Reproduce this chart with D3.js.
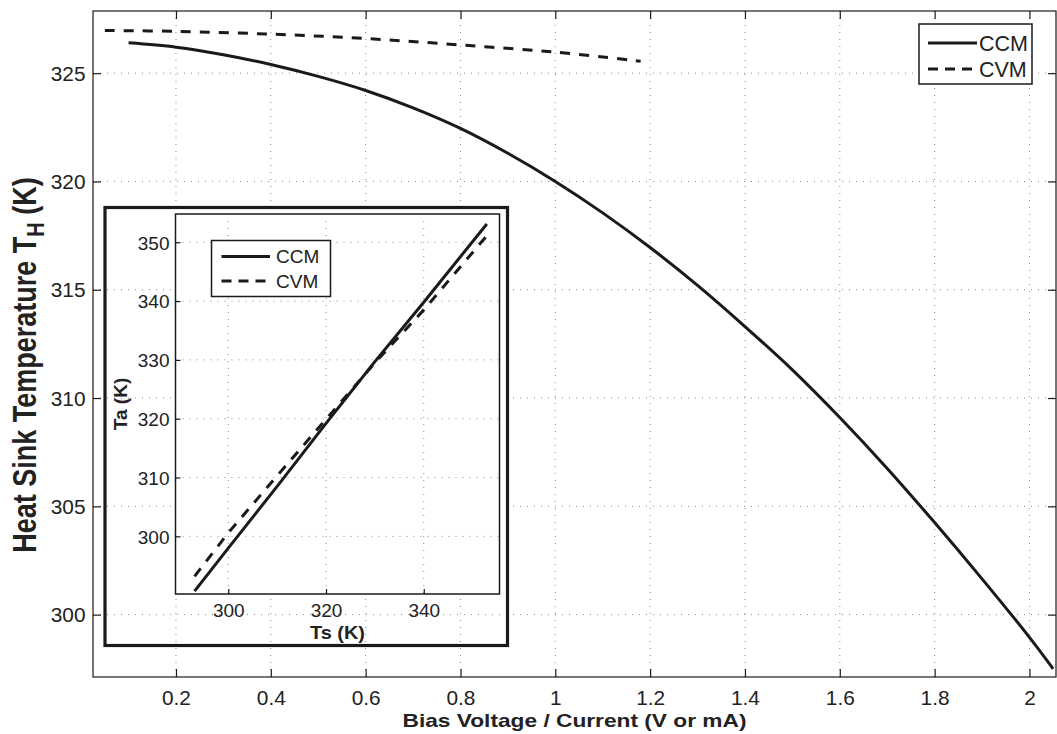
<!DOCTYPE html>
<html><head><meta charset="utf-8">
<script src="https://cdn.jsdelivr.net/npm/d3@7"></script>
<style>body{margin:0;background:#fff;} svg{display:block;} text{font-family:"Liberation Sans",Arial,sans-serif;fill:#222;}</style>
</head><body>
<svg id="c" width="1057" height="734"></svg>
<script>
// ---- main chart data ----
const ccmX = [0.1,0.2,0.3,0.4,0.5,0.6,0.7,0.8,0.9,1.0,1.1,1.2,1.3,1.4,1.5,1.6,1.7,1.8,1.9,2.0,2.05];
const ccmT = [326.4,326.2,325.85,325.4,324.85,324.2,323.4,322.45,321.3,320.0,318.55,316.95,315.2,313.3,311.3,309.1,306.75,304.25,301.65,298.95,297.5];
const cvmX = [0.05,0.2,0.4,0.6,0.8,1.0,1.18];
const cvmT = [326.97,326.93,326.8,326.6,326.3,325.97,325.55];
const xTicks = [0.2,0.4,0.6,0.8,1.0,1.2,1.4,1.6,1.8,2.0];
const yTicks = [300,305,310,315,320,325];
// ---- inset data ----
const insCcmTs = [293.1,300,310,320,330,340,352.9];
const insCcmTa = [290.7,298.0,308.5,319.2,329.7,339.8,353.1];
const insCvmTs = [293.1,300,310,320,330,340,352.9];
const insCvmTa = [293.2,300.6,310.3,319.9,329.5,338.5,351.1];
const insXTicks = [300,320,340];
const insYTicks = [300,310,320,330,340,350];
const seriesNames = ["CCM","CVM"];

const svg = d3.select("#c");
const M = {l:93, r:1056, t:11, b:677};
const x = d3.scaleLinear().domain([0.025,2.056]).range([M.l,M.r]);
const y = d3.scaleLinear().domain([297.12,327.87]).range([M.b,M.t]);
const ink = "#1a1a1a", gridC = "#888";
const FF = "'Liberation Sans',Arial,sans-serif";

svg.append("defs").append("clipPath").attr("id","mclip")
  .append("rect").attr("x",M.l).attr("y",M.t).attr("width",M.r-M.l).attr("height",M.b-M.t);

// main grid
const g = svg.append("g");
xTicks.forEach(v=>g.append("line").attr("x1",x(v)).attr("x2",x(v)).attr("y1",M.t).attr("y2",M.b)
  .attr("stroke",gridC).attr("stroke-width",1).attr("stroke-dasharray","1,6"));
yTicks.forEach(v=>g.append("line").attr("y1",y(v)).attr("y2",y(v)).attr("x1",M.l).attr("x2",M.r)
  .attr("stroke",gridC).attr("stroke-width",1).attr("stroke-dasharray","1,6"));

// main lines
const lineMain = d3.line().x(d=>x(d[0])).y(d=>y(d[1])).curve(d3.curveCatmullRom);
const lg = svg.append("g").attr("clip-path","url(#mclip)");
lg.append("path").datum(ccmX.map((v,i)=>[v,ccmT[i]])).attr("d",lineMain)
  .attr("fill","none").attr("stroke",ink).attr("stroke-width",3);
lg.append("path").datum(cvmX.map((v,i)=>[v,cvmT[i]])).attr("d",lineMain)
  .attr("fill","none").attr("stroke",ink).attr("stroke-width",3).attr("stroke-dasharray","10,9");

// main axes box + ticks
svg.append("rect").attr("x",M.l).attr("y",M.t).attr("width",M.r-M.l).attr("height",M.b-M.t)
  .attr("fill","none").attr("stroke",ink).attr("stroke-width",1.2);
const ax = svg.append("g").attr("transform",`translate(0,${M.b})`)
  .call(d3.axisBottom(x).tickValues(xTicks).tickSizeInner(-8).tickSizeOuter(0).tickPadding(14)
  .tickFormat(d=>d3.format("")(+d.toFixed(1))));
const ay = svg.append("g").attr("transform",`translate(${M.l},0)`)
  .call(d3.axisLeft(y).tickValues(yTicks).tickSizeInner(-8).tickSizeOuter(0).tickPadding(7));
const axT = svg.append("g").attr("transform",`translate(0,${M.t})`)
  .call(d3.axisTop(x).tickValues(xTicks).tickSizeInner(-8).tickSizeOuter(0).tickFormat(""));
const ayR = svg.append("g").attr("transform",`translate(${M.r},0)`)
  .call(d3.axisRight(y).tickValues(yTicks).tickSizeInner(-8).tickSizeOuter(0).tickFormat(""));
[ax,ay,axT,ayR].forEach(a=>{a.select(".domain").remove();
  a.selectAll("line").attr("stroke",ink).attr("stroke-width",1.2);
  a.selectAll("text").attr("font-size",19.5).attr("fill","#222").style("font-family",FF)
    .attr("transform","scale(1.07,1)");});
ay.selectAll("text").attr("dy","0.36em");

svg.append("text").attr("x",(M.l+M.r)/2).attr("y",727).attr("text-anchor","middle")
  .attr("font-size",18.5).attr("font-weight","bold")
  .attr("textLength",344).attr("lengthAdjust","spacingAndGlyphs")
  .text("Bias Voltage / Current (V or mA)");
const yl = svg.append("text").attr("transform",`translate(36,365) rotate(-90) scale(1,1.2)`)
  .attr("text-anchor","middle").attr("font-size",27).attr("font-weight","bold");
yl.append("tspan").text("Heat Sink Temperature T");
yl.append("tspan").attr("font-size",20).attr("dy",7).text("H");
yl.append("tspan").attr("dy",-7).text(" (K)");

// ---- inset ----
const I = {l:175.5, r:499.5, t:214, b:594};
svg.append("rect").attr("x",105).attr("y",207.5).attr("width",402.5).attr("height",438)
  .attr("fill","none").attr("stroke",ink).attr("stroke-width",3.2);
const ix = d3.scaleLinear().domain([289.2,355.5]).range([I.l,I.r]);
const iy = d3.scaleLinear().domain([290.2,354.8]).range([I.b,I.t]);
svg.append("rect").attr("x",I.l).attr("y",I.t).attr("width",I.r-I.l).attr("height",I.b-I.t).attr("fill","#fff");
const ig = svg.append("g");
insXTicks.forEach(v=>ig.append("line").attr("x1",ix(v)).attr("x2",ix(v)).attr("y1",I.t).attr("y2",I.b)
  .attr("stroke",gridC).attr("stroke-dasharray","1,6"));
insYTicks.forEach(v=>ig.append("line").attr("y1",iy(v)).attr("y2",iy(v)).attr("x1",I.l).attr("x2",I.r)
  .attr("stroke",gridC).attr("stroke-dasharray","1,6"));
const lineIns = d3.line().x(d=>ix(d[0])).y(d=>iy(d[1]));
svg.append("path").datum(insCcmTs.map((v,i)=>[v,insCcmTa[i]])).attr("d",lineIns)
  .attr("fill","none").attr("stroke",ink).attr("stroke-width",3);
svg.append("path").datum(insCvmTs.map((v,i)=>[v,insCvmTa[i]])).attr("d",lineIns)
  .attr("fill","none").attr("stroke",ink).attr("stroke-width",3).attr("stroke-dasharray","10,9");
svg.append("rect").attr("x",I.l).attr("y",I.t).attr("width",I.r-I.l).attr("height",I.b-I.t)
  .attr("fill","none").attr("stroke",ink).attr("stroke-width",1.5);
const iax = svg.append("g").attr("transform",`translate(0,${I.b})`)
  .call(d3.axisBottom(ix).tickValues(insXTicks).tickSizeInner(-5).tickSizeOuter(0).tickPadding(10));
const iay = svg.append("g").attr("transform",`translate(${I.l},0)`)
  .call(d3.axisLeft(iy).tickValues(insYTicks).tickSizeInner(-5).tickSizeOuter(0).tickPadding(6));
[iax,iay].forEach(a=>{a.select(".domain").remove();
  a.selectAll("line").attr("stroke",ink).attr("stroke-width",1.2);
  a.selectAll("text").attr("font-size",19).attr("fill","#222").style("font-family",FF);});
iay.selectAll("text").attr("dy","0.36em");
svg.append("text").attr("x",(I.l+I.r)/2).attr("y",639).attr("text-anchor","middle")
  .attr("font-size",18.5).attr("font-weight","bold")
  .attr("textLength",55).attr("lengthAdjust","spacingAndGlyphs").text("Ts (K)");
svg.append("text").attr("transform",`translate(127,${(I.t+I.b)/2}) rotate(-90)`).attr("text-anchor","middle")
  .attr("font-size",19).attr("font-weight","bold").text("Ta (K)");

// legends
function legend(x0,y0,w,h,lx1,lx2,tx,rows,fs){
  const L = svg.append("g");
  L.append("rect").attr("x",x0).attr("y",y0).attr("width",w).attr("height",h)
    .attr("fill","#fff").attr("stroke",ink).attr("stroke-width",1.5);
  seriesNames.forEach((n,i)=>{
    L.append("line").attr("x1",lx1).attr("x2",lx2).attr("y1",rows[i]).attr("y2",rows[i])
      .attr("stroke",ink).attr("stroke-width",3).attr("stroke-dasharray",i?"10,7":null);
    L.append("text").attr("x",tx).attr("y",rows[i]).attr("dy","0.36em").attr("font-size",fs).text(n);
  });
}
legend(919,24,113,60,928,977,979,[43,69],21.5);
legend(211.5,240.5,119,56,221.5,270,276,[256.5,281],19);
</script>
</body></html>
